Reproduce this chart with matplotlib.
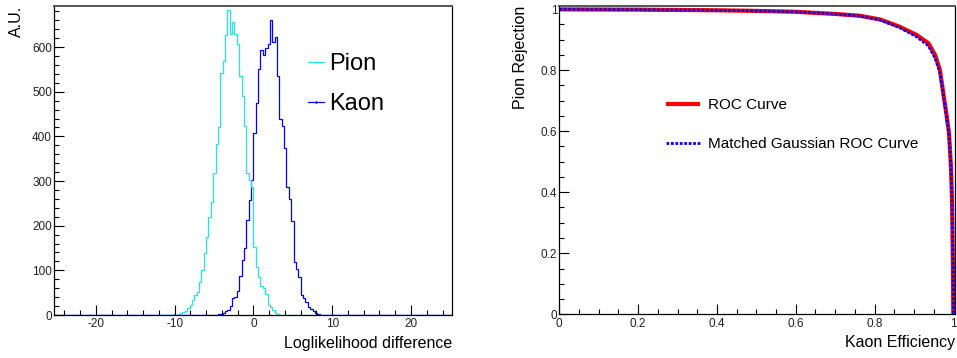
import numpy as np
import matplotlib
matplotlib.use("Agg")
import matplotlib.pyplot as plt
from matplotlib.lines import Line2D
from matplotlib.ticker import MultipleLocator

plt.rcParams["font.family"] = ["Liberation Sans", "DejaVu Sans"]
plt.rcParams["axes.unicode_minus"] = False

# histogram binning (0.3 wide bins)
BIN_WIDTH = 0.3
HIST_LO, HIST_HI = -25.2, 25.2

pion_first_edge = -11.4
pion_counts = [1, 0, 1, 1, 2, 1, 3, 4, 7, 10, 15, 22, 33, 45, 52, 74, 100, 138,
               175, 220, 254, 317, 384, 422, 543, 568, 628, 684, 630, 657, 630,
               608, 536, 490, 424, 317, 302, 286, 153, 108, 86, 65, 60, 48, 22,
               19, 11, 5, 2, 1, 1, 0, 1]

kaon_first_edge = -4.8
kaon_counts = [1, 2, 3, 5, 8, 11, 20, 37, 41, 54, 87, 123, 149, 213, 257, 302,
               407, 474, 552, 593, 582, 598, 608, 660, 612, 622, 535, 440, 423,
               373, 286, 260, 210, 119, 104, 86, 45, 37, 28, 17, 14, 8, 5, 3, 1,
               1, 0, 1, 1]

# ROC curves: kaon efficiency vs pion rejection
roc_eff = [0.0, 0.2, 0.4, 0.5, 0.6, 0.7, 0.763, 0.814, 0.864, 0.907, 0.937,
           0.954, 0.966, 0.975, 0.982, 0.989, 0.994, 0.9967, 0.999, 1.0]
roc_rej = [0.999, 0.998, 0.996, 0.994, 0.991, 0.984, 0.978, 0.966, 0.942,
           0.915, 0.888, 0.849, 0.80, 0.72, 0.66, 0.594, 0.483, 0.374, 0.156, 0.0]
gauss_eff = [0.0, 0.2, 0.4, 0.5, 0.6, 0.7, 0.763, 0.814, 0.864, 0.907, 0.937,
             0.954, 0.966, 0.975, 0.982, 0.989, 0.994, 0.9967, 0.999, 1.0]
gauss_rej = [0.999, 0.998, 0.996, 0.994, 0.991, 0.984, 0.977, 0.964, 0.939,
             0.909, 0.879, 0.838, 0.792, 0.715, 0.655, 0.59, 0.48, 0.37, 0.15, 0.0]


def full_hist(first_edge, counts):
    n_bins = int(round((HIST_HI - HIST_LO) / BIN_WIDTH))
    h = np.zeros(n_bins)
    off = int(round((first_edge - HIST_LO) / BIN_WIDTH))
    h[off:off + len(counts)] = counts
    return h


def style_axes(ax):
    ax.tick_params(which="both", direction="in", top=False, right=False,
                   labelsize=8.5, labelcolor="#222222", width=0.8)
    ax.tick_params(which="major", length=7.5)
    ax.tick_params(which="minor", length=3.8)
    ax.tick_params(axis="x", pad=2.5)
    ax.tick_params(axis="y", pad=1.5)
    for s in ax.spines.values():
        s.set_linewidth(0.9)
    ax.spines["top"].set_color("#555555")
    ax.spines["top"].set_linewidth(1.4)


W, H = 957, 358
fig = plt.figure(figsize=(W / 100, H / 100), dpi=100)

# ---- left: loglikelihood difference histograms
ax1 = fig.add_axes([54 / W, 43 / H, 398 / W, 309 / H])
edges = HIST_LO + BIN_WIDTH * np.arange(int(round((HIST_HI - HIST_LO) / BIN_WIDTH)) + 1)
kaon_col, pion_col = "#0000ff", "#22e6e6"
ax1.stairs(full_hist(kaon_first_edge, kaon_counts), edges, color=kaon_col, lw=0.9)
ax1.stairs(full_hist(pion_first_edge, pion_counts), edges, color=pion_col, lw=0.9)
ax1.set_xlim(-25.3, 25.2)
ax1.set_ylim(0, 692)
ax1.xaxis.set_major_locator(MultipleLocator(10))
ax1.xaxis.set_minor_locator(MultipleLocator(2))
ax1.yaxis.set_major_locator(MultipleLocator(100))
ax1.yaxis.set_minor_locator(MultipleLocator(20))
style_axes(ax1)
ax1.set_xlabel("Loglikelihood difference", loc="right", fontsize=11.5)
ax1.xaxis.set_label_coords(1.0, -0.068)
ax1.set_ylabel("A.U.", loc="top", fontsize=11.5)
ax1.yaxis.set_label_coords(-0.075, 1.0)
handles = [Line2D([], [], color=pion_col, lw=0.9, marker=".", ms=1.5),
           Line2D([], [], color=kaon_col, lw=0.9, marker=".", ms=1.5)]
ax1.legend(handles, ["Pion", "Kaon"], frameon=False, fontsize=17,
           loc="upper left", bbox_to_anchor=(0.638, 0.848),
           handlelength=0.7, handletextpad=0.2, labelspacing=0.76,
           borderpad=0, borderaxespad=0)

# ---- right: ROC curves
ax2 = fig.add_axes([559.3 / W, 43.7 / H, 396 / W, 308.6 / H])
ax2.plot(roc_eff, roc_rej, color="#ff0000", lw=3.0, label="ROC Curve",
         solid_capstyle="butt")
ax2.plot(gauss_eff, gauss_rej, color="#0000ff", lw=2.0, ls=(0, (1, 0.6)),
         dash_capstyle="butt", label="Matched Gaussian ROC Curve")
ax2.set_xlim(0, 1.005)
ax2.set_ylim(0, 1.011)
ax2.xaxis.set_major_locator(MultipleLocator(0.2))
ax2.xaxis.set_minor_locator(MultipleLocator(0.05))
ax2.yaxis.set_major_locator(MultipleLocator(0.2))
ax2.yaxis.set_minor_locator(MultipleLocator(0.05))
ax2.xaxis.set_major_formatter(lambda v, p: f"{v:g}")
ax2.yaxis.set_major_formatter(lambda v, p: f"{v:g}")
style_axes(ax2)
ax2.set_xlabel("Kaon Efficiency", loc="right", fontsize=11.5)
ax2.xaxis.set_label_coords(1.0, -0.068)
ax2.set_ylabel("Pion Rejection", loc="top", fontsize=11.5)
ax2.yaxis.set_label_coords(-0.079, 1.0)
ax2.legend(frameon=False, fontsize=11, loc="upper left",
           bbox_to_anchor=(0.27, 0.70), handlelength=2.2, handletextpad=0.55,
           labelspacing=1.65, borderpad=0, borderaxespad=0)

fig.savefig("out.png", dpi=100)
